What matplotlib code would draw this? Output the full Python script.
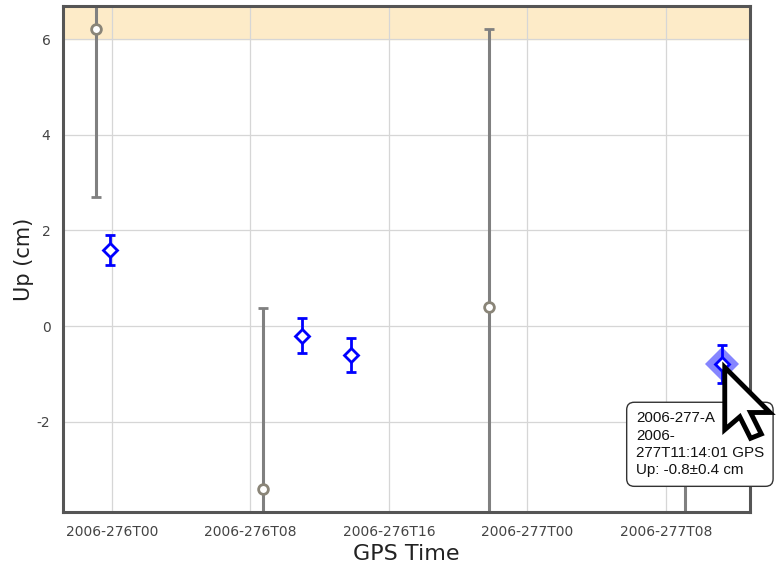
import numpy as np
import matplotlib
matplotlib.use("Agg")
import matplotlib.pyplot as plt
from matplotlib.patches import Polygon
from matplotlib.transforms import Affine2D, ScaledTranslation

plt.rcParams["axes.unicode_minus"] = False

# hours since 2006-276T00
hours_a = [-0.12, 10.98, 13.8, 35.23]
up_a = [1.59, -0.2, -0.6, -0.8]
err_a = [0.31, 0.36, 0.36, 0.4]

hours_b = [-0.92, 8.72, 21.78, 33.1]
up_b = [6.2, -3.4, 0.4, -2.8]
err_b = [3.5, 3.77, 5.8, 1.2]

tick_hours = [0, 8, 16, 24, 32]
tick_labels = ["2006-276T00", "2006-276T08", "2006-276T16",
               "2006-277T00", "2006-277T08"]
y_ticks = [-2, 0, 2, 4, 6]

fig = plt.figure(figsize=(7.77, 5.71), dpi=100)
ax = fig.add_axes([0.081, 0.103, 0.884, 0.8865])

ax.set_xlim(-2.83, 36.85)
ax.set_ylim(-3.89, 6.69)

# warning band above 6 cm
ax.axhspan(6, 6.69, color="#fdebc8", zorder=0)

ax.set_xticks(tick_hours)
ax.set_xticklabels(tick_labels)
ax.set_yticks(y_ticks)
ax.grid(True, color="#d6d6d6", linewidth=0.9, zorder=0.5)
ax.tick_params(length=0, labelsize=10, labelcolor="#444444", pad=9)

for sp in ax.spines.values():
    sp.set_color("#555555")
    sp.set_linewidth(2.2)
    sp.set_zorder(5)

ax.errorbar(hours_b, up_b, yerr=err_b, fmt="o", color="#808080",
            ecolor="#808080", elinewidth=2.2, capsize=3.5, capthick=2.2,
            markersize=7, markerfacecolor="white", markeredgewidth=2,
            markeredgecolor="#8a8578", zorder=3)

# hovered point highlight
ax.plot(hours_a[-1], up_a[-1], "D", markersize=17, color="#5c5cff",
        alpha=0.75, markeredgewidth=0, zorder=3)

ax.errorbar(hours_a, up_a, yerr=err_a, fmt="D", color="#0000ff",
            ecolor="#0000ff", elinewidth=2, capsize=3.5, capthick=2,
            markersize=7, markerfacecolor="white", markeredgewidth=2,
            zorder=4)

ax.set_xlabel("GPS Time", fontsize=16, color="#222222", labelpad=4)
ax.set_ylabel("Up (cm)", fontsize=15, color="#222222", labelpad=2)

# tooltip
tip = "2006-277-A\n2006-\n277T11:14:01 GPS\nUp: %.1f\u00b1%.1f cm" % (up_a[-1], err_a[-1])
ax.annotate(tip, xy=(hours_a[-1], up_a[-1]), xytext=(-86, -47),
            textcoords="offset pixels", ha="left", va="top",
            fontsize=10.9, family="Liberation Sans", color="#111111",
            linespacing=1.3, annotation_clip=False, zorder=10,
            bbox=dict(boxstyle="round,pad=0.6,rounding_size=0.5",
                      facecolor="white", edgecolor="#333333", linewidth=1))

# mouse cursor
cursor = np.array([(0, 0), (0, 29), (7, 23), (12, 33), (17, 31),
                   (12, 21), (21, 21)])
trans = Affine2D().scale(2.15, -2.15) + ScaledTranslation(
    hours_a[-1], up_a[-1], ax.transData) + Affine2D().translate(3, -3)
ax.add_patch(Polygon(cursor, closed=True, facecolor="white",
                     edgecolor="black", linewidth=3.5, joinstyle="miter",
                     transform=trans, clip_on=False, zorder=11))

fig.savefig("out.png", dpi=100)
